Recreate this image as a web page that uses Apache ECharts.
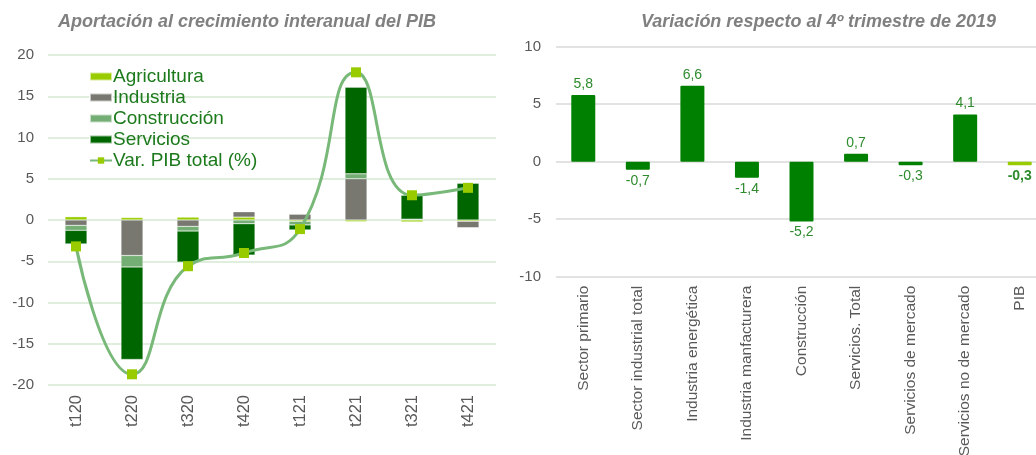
<!DOCTYPE html>
<html lang="es">
<head>
    <meta charset="UTF-8">
    <title>PIB</title>
    <script src="https://cdn.jsdelivr.net/npm/echarts@6/dist/echarts.min.js"></script>
    <style>
        html, body { margin: 0; padding: 0; background: #fff; }
        #main { width: 1036px; height: 455px; }
    </style>
</head>
<body>
<div id="main"></div>
<script>
    // datos grafico izquierdo
    var trimestres = ['t120', 't220', 't320', 't420', 't121', 't221', 't321', 't421'];
    var agricultura = [0.4, 0.3, 0.35, 0.35, -0.15, -0.2, -0.25, -0.15];
    var industria = [-0.65, -4.3, -0.77, 0.65, 0.7, 5.0, 0, -0.8];
    var construccion = [-0.6, -1.4, -0.57, -0.45, -0.45, 0.6, 0.1, 0];
    var servicios = [-1.65, -11.2, -3.76, -3.8, -0.6, 10.5, 2.9, 4.45];
    var pibTotal = [-3.2, -18.7, -5.6, -4.0, -1.1, 17.9, 3.0, 3.9];

    // datos grafico derecho
    var sectores = ['Sector primario', 'Sector industrial total', 'Industria energética',
        'Industria manfacturera', 'Construcción', 'Servicios. Total', 'Servicios de mercado',
        'Servicios no de mercado', 'PIB'];
    var variacion = [5.8, -0.7, 6.6, -1.4, -5.2, 0.7, -0.3, 4.1, -0.3];

    var gris = '#595959';
    var verdeTexto = '#1c7a1c';

    function coma(v) {
        return v.toFixed(1).replace('.', ',');
    }

    var barrasDerecha = variacion.map(function (v, i) {
        var esPib = sectores[i] === 'PIB';
        return {
            value: v,
            itemStyle: {color: esPib ? '#99cc00' : '#008000'},
            label: {
                position: v >= 0 ? 'top' : 'bottom',
                fontWeight: esPib ? 'bold' : 'normal'
            }
        };
    });

    function apilada(nombre, datos, color) {
        return {
            name: nombre,
            type: 'bar',
            stack: 'pib',
            xAxisIndex: 0,
            yAxisIndex: 0,
            barWidth: 22,
            itemStyle: {color: color, borderColor: 'rgba(255,255,255,0.6)', borderWidth: 0.5},
            data: datos
        };
    }

    var myChart = echarts.init(document.getElementById('main'));

    var option = {
        animation: false,
        title: [{
            text: 'Aportación al crecimiento interanual del PIB',
            left: 53,
            top: 8,
            textStyle: {fontFamily: 'Liberation Sans', fontSize: 18, fontWeight: 'bold', fontStyle: 'italic', color: '#808080'}
        }, {
            text: 'Variación respecto al 4º trimestre de 2019',
            left: 636,
            top: 8,
            textStyle: {fontFamily: 'Liberation Sans', fontSize: 18, fontWeight: 'bold', fontStyle: 'italic', color: '#808080'}
        }],
        legend: {
            orient: 'vertical',
            left: 84,
            top: 62,
            itemWidth: 22,
            itemHeight: 8,
            itemGap: 2,
            textStyle: {fontFamily: 'Liberation Sans', fontSize: 19, color: verdeTexto, padding: [0, 0, 0, -4]},
            data: [
                {name: 'Agricultura', icon: 'rect'},
                {name: 'Industria', icon: 'rect'},
                {name: 'Construcción', icon: 'rect'},
                {name: 'Servicios', icon: 'rect'},
                'Var. PIB total (%)'
            ]
        },
        grid: [
            {left: 48, top: 55, width: 448, height: 330, outerBoundsMode: 'none'},
            {left: 556, top: 46.7, right: -11, height: 230, outerBoundsMode: 'none'}
        ],
        xAxis: [{
            gridIndex: 0,
            type: 'category',
            data: trimestres,
            position: 'bottom',
            axisLine: {show: false},
            axisTick: {show: false},
            axisLabel: {rotate: 90, margin: 10, fontFamily: 'Liberation Sans', fontSize: 16.5, color: gris}
        }, {
            gridIndex: 1,
            type: 'category',
            data: sectores,
            axisLine: {show: false},
            axisTick: {show: false},
            axisLabel: {rotate: 90, margin: 9, fontFamily: 'Liberation Sans', fontSize: 15.5, color: gris, interval: 0}
        }],
        yAxis: [{
            gridIndex: 0,
            type: 'value',
            min: -20,
            max: 20,
            interval: 5,
            axisLabel: {margin: 14, fontFamily: 'Liberation Sans', fontSize: 15, color: gris},
            splitLine: {lineStyle: {color: '#d6e9d2', width: 1.5}}
        }, {
            gridIndex: 1,
            type: 'value',
            min: -10,
            max: 10,
            interval: 5,
            axisLabel: {margin: 15, fontFamily: 'Liberation Sans', fontSize: 15, color: gris},
            splitLine: {lineStyle: {color: '#d9d9d9', width: 1.5}}
        }],
        series: [
            apilada('Agricultura', agricultura, '#99cc00'),
            apilada('Industria', industria, '#787871'),
            apilada('Construcción', construccion, '#74ae74'),
            apilada('Servicios', servicios, '#006600'),
            {
                name: 'Var. PIB total (%)',
                type: 'line',
                xAxisIndex: 0,
                yAxisIndex: 0,
                smooth: 0.5,
                symbol: 'rect',
                symbolSize: 10,
                z: 5,
                lineStyle: {color: '#78b878', width: 3},
                itemStyle: {color: '#99cc00', borderWidth: 0},
                data: pibTotal
            },
            {
                name: 'Variación',
                type: 'bar',
                xAxisIndex: 1,
                yAxisIndex: 1,
                barWidth: 24,
                itemStyle: {borderRadius: 1},
                label: {
                    show: true,
                    distance: 4,
                    fontFamily: 'Liberation Sans',
                    fontSize: 14,
                    color: '#2e8b2e',
                    formatter: function (p) { return coma(p.value); }
                },
                data: barrasDerecha
            }
        ]
    };

    myChart.setOption(option);
</script>
</body>
</html>
